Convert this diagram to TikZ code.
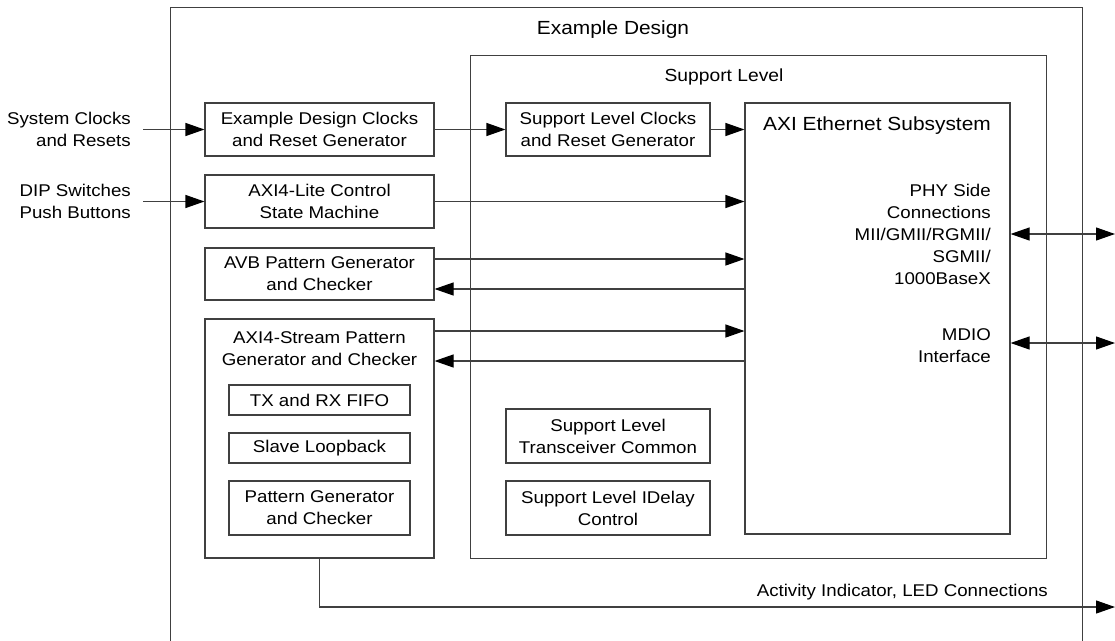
\documentclass[tikz,border=0pt]{standalone}
\usepackage{fontspec}
\setmainfont{Liberation Sans}[FakeStretch=1.1]
\usetikzlibrary{arrows.meta,positioning}
\definecolor{lineaGris}{HTML}{404040}

\begin{document}
\begin{tikzpicture}[x=1pt, y=-1pt,
    caja/.style={draw=lineaGris, line width=1.1pt, fill=white, inner sep=0pt, align=center, font=\fontsize{17}{22}\selectfont},
    marco/.style={draw=lineaGris, line width=1.2pt, inner sep=0pt, anchor=north west},
    texto/.style={inner sep=0pt, font=\fontsize{17}{22}\selectfont},
    titulo/.style={inner sep=0pt, font=\fontsize{19}{23}\selectfont},
    punta/.tip={Triangle[length=19pt, width=13pt, color=black]},
    flecha/.style={draw=lineaGris, line width=1.1pt, -punta},
    doble/.style={draw=lineaGris, line width=1.1pt, punta-punta}
  ]
  \useasboundingbox (0,0) rectangle (1115,640);
  \clip (0,0) rectangle (1115,640);

  % Marcos
  \node[marco, minimum width=912pt, minimum height=660pt] (exdes) at (170,7) {};
  \node[titulo] (exdestit) at (613,30) {Example Design};
  \node[marco, minimum width=576pt, minimum height=503pt] (suplvl) at (470,55) {};
  \node[titulo, font=\fontsize{17.5}{22}\selectfont] (suplvltit) at (724,77) {Support Level};

  % Bloques del diseño de ejemplo
  \node[caja, minimum width=229pt, minimum height=53pt] (clkex) at (319.5,129.5) {Example Design Clocks\\and Reset Generator};
  \node[caja, minimum width=229pt, minimum height=53pt] (lite) at (319.5,201.5) {AXI4-Lite Control\\State Machine};
  \node[caja, minimum width=229pt, minimum height=52pt] (avb) at (319.5,274) {AVB Pattern Generator\\and Checker};
  \node[caja, minimum width=229pt, minimum height=239pt] (strm) at (319.5,438.5) {};
  \node[texto, align=center] (strmtit) at (319.5,349) {AXI4-Stream Pattern\\Generator and Checker};
  \node[caja, minimum width=181pt, minimum height=30pt] (fifo) at (319.5,400) {TX and RX FIFO};
  \node[caja, minimum width=181pt, minimum height=30pt] (loop) at (319.5,448) {Slave Loopback};
  \node[caja, minimum width=181pt, minimum height=54pt] (pgen) at (319.5,508) {Pattern Generator\\and Checker};

  % Bloques del nivel de soporte
  \node[caja, minimum width=204pt, minimum height=53pt] (slclk) at (608,129.5) {Support Level Clocks\\and Reset Generator};
  \node[caja, minimum width=204pt, minimum height=54pt] (trans) at (608,436) {Support Level\\Transceiver Common};
  \node[caja, minimum width=204pt, minimum height=54pt] (idly) at (608,508) {Support Level IDelay\\Control};
  \node[caja, minimum width=265pt, minimum height=431pt] (axi) at (877.5,318.5) {};
  \node[titulo] (axitit) at (877,126) {AXI Ethernet Subsystem};
  \node[texto, align=right, anchor=east] (phy) at (991,234) {PHY Side\\Connections\\MII/GMII/RGMII/\\SGMII/\\1000BaseX};
  \node[texto, align=right, anchor=east] (mdio) at (991,346) {MDIO\\Interface};

  % Entradas y salidas
  \node[texto, align=right, anchor=east] (sysclk) at (131,129) {System Clocks\\and Resets};
  \node[texto, align=right, anchor=east] (dip) at (131,201) {DIP Switches\\Push Buttons};
  \coordinate (phyR) at (1115,234);
  \coordinate (mdioR) at (1115,343);
  \coordinate (actR) at (1115,607);

  \draw[flecha] ([xshift=12pt]sysclk.east |- clkex.west) -- (clkex.west);
  \draw[flecha] ([xshift=12pt]dip.east |- lite.west) -- (lite.west);
  \draw[flecha] (clkex.east) -- (slclk.west);
  \draw[flecha] (slclk.east) -- (slclk.east -| axi.west);
  \draw[flecha] (lite.east) -- (lite.east -| axi.west);
  \draw[flecha] ([yshift=15pt]avb.east) -- ([yshift=15pt]avb.east -| axi.west);
  \draw[flecha] ([yshift=-15pt]avb.east -| axi.west) -- ([yshift=-15pt]avb.east);
  \coordinate (strmA) at (strm.east |- 0,331);
  \coordinate (strmB) at (strm.east |- 0,361);
  \draw[flecha] (strmA) -- (strmA -| axi.west);
  \draw[flecha] (strmB -| axi.west) -- (strmB);
  \draw[doble] (axi.east |- phyR) -- (phyR);
  \draw[doble] (axi.east |- mdioR) -- (mdioR);
  \draw[flecha] (strm.south) |- (actR);
  \node[texto, anchor=east] (act) at (1048,592) {Activity Indicator, LED Connections};
\end{tikzpicture}
\end{document}
